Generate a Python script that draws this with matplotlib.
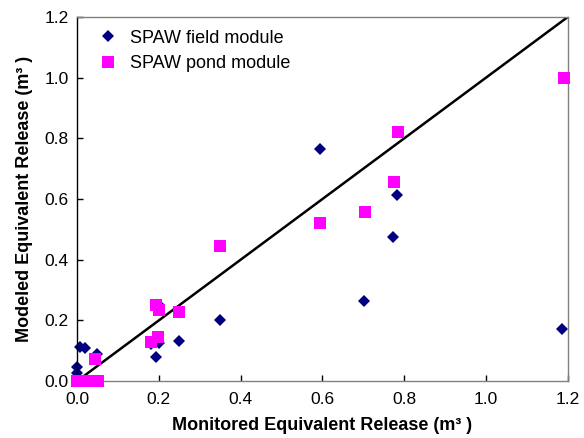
import matplotlib.pyplot as plt

plt.rcParams['font.family'] = ['Liberation Sans', 'DejaVu Sans']

# SPAW field module (monitored, modeled)
field_x = [0.0, 0.0, 0.0, 0.007, 0.02, 0.049, 0.01,
           0.181, 0.193, 0.2, 0.2, 0.249, 0.35,
           0.594, 0.702, 0.773, 0.782, 1.186]
field_y = [0.0, 0.027, 0.048, 0.112, 0.108, 0.088, 0.0,
           0.122, 0.079, 0.126, 0.25, 0.132, 0.2,
           0.764, 0.264, 0.476, 0.615, 0.172]

# SPAW pond module
pond_x = [0.0, 0.01, 0.02, 0.03, 0.04, 0.05, 0.044,
          0.181, 0.198, 0.193, 0.2, 0.25, 0.35,
          0.594, 0.704, 0.775, 0.785, 1.19]
pond_y = [0.0, 0.0, 0.0, 0.0, 0.0, 0.0, 0.072,
          0.129, 0.145, 0.251, 0.235, 0.228, 0.445,
          0.522, 0.556, 0.655, 0.82, 1.0]

# 1:1 line
line_x = [0.0, 1.2]
line_y = [0.0, 1.2]

fig = plt.figure(figsize=(5.84, 4.38), dpi=100)
ax = fig.add_axes([0.132, 0.130, 0.840, 0.831])

ax.plot(line_x, line_y, color='black', linewidth=1.8, zorder=1)
ax.plot(field_x, field_y, linestyle='none', marker='D', markersize=6,
        color='#000080', markeredgewidth=0, label='SPAW field module',
        clip_on=False, zorder=2)
ax.plot(pond_x, pond_y, linestyle='none', marker='s', markersize=8.5,
        color='#ff00ff', markeredgewidth=0, label='SPAW pond module',
        clip_on=False, zorder=3)

ax.set_xlim(0, 1.2)
ax.set_ylim(0, 1.2)
ticks = [0.0, 0.2, 0.4, 0.6, 0.8, 1.0, 1.2]
ax.set_xticks(ticks)
ax.set_yticks(ticks)
ax.set_xticklabels([f'{t:.1f}' for t in ticks])
ax.set_yticklabels([f'{t:.1f}' for t in ticks])
ax.tick_params(labelsize=12.5, length=4, width=1, direction='in')
ax.tick_params(axis='x', colors='black', labelcolor='black', pad=8)
ax.tick_params(axis='y', pad=6)

for side in ['top', 'right', 'bottom']:
    ax.spines[side].set_color('#808080')
    ax.spines[side].set_linewidth(1)
ax.spines['left'].set_color('black')
ax.spines['left'].set_linewidth(1)

ax.set_xlabel('Monitored Equivalent Release (m³ )', fontsize=13,
              fontweight='bold', labelpad=7)
ax.set_ylabel('Modeled Equivalent Release (m³ )', fontsize=13,
              fontweight='bold', labelpad=8)

ax.legend(loc='upper left', frameon=False, fontsize=13,
          handletextpad=0.25, borderaxespad=0.2, labelspacing=0.45,
          borderpad=0.5)

fig.savefig('out.png', dpi=100)
